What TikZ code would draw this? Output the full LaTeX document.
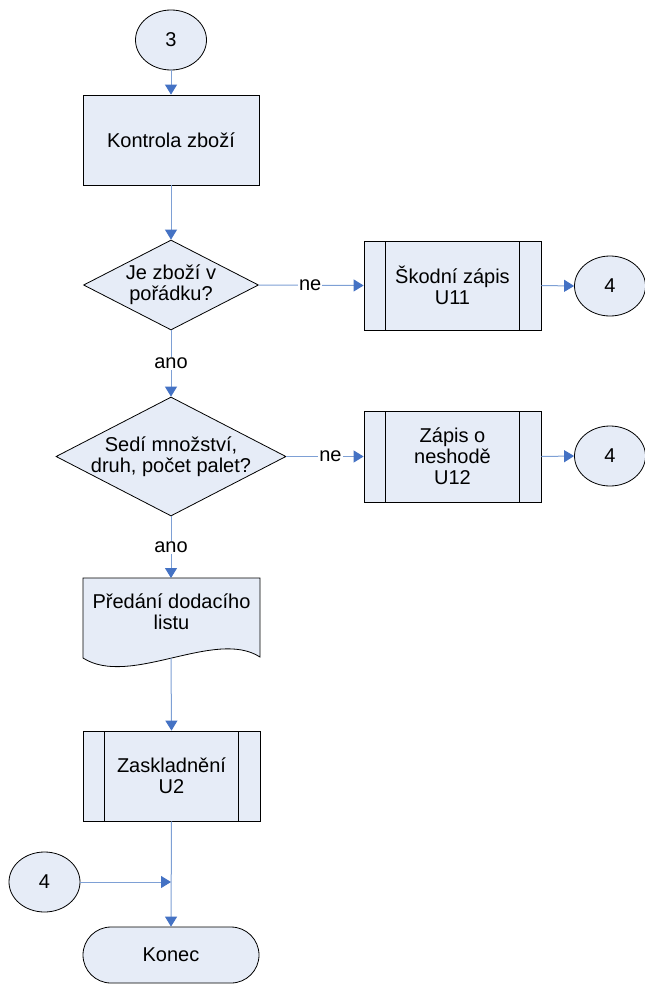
\documentclass[tikz,border=0pt]{standalone}
\usepackage{fontspec}
\setmainfont{Liberation Sans}
\usetikzlibrary{shapes.geometric,shapes.misc,arrows.meta}
\definecolor{boxfill}{RGB}{230,236,247}
\definecolor{lineblue}{RGB}{126,160,213}
\definecolor{tipblue}{RGB}{68,114,196}
\begin{document}
\begin{tikzpicture}[x=1pt,y=-1pt,
  every node/.style={font=\fontsize{20}{21}\selectfont, align=center, text=black},
  base/.style={draw=black, fill=boxfill, line width=0.8pt, inner sep=0pt},
  conn/.style={base, ellipse, minimum width=71pt, minimum height=60pt},
  procbox/.style={base, rectangle, minimum width=176pt, minimum height=90pt},
  subbox/.style={procbox, path picture={
      \draw[black, line width=0.8pt] ([xshift=21pt]path picture bounding box.north west) -- ([xshift=21pt]path picture bounding box.south west);
      \draw[black, line width=0.8pt] ([xshift=-22pt]path picture bounding box.north east) -- ([xshift=-22pt]path picture bounding box.south east);}},
  decbox/.style={base, diamond},
  termbox/.style={base, rounded rectangle, minimum width=176pt, minimum height=56pt},
  flow/.style={draw=lineblue, line width=1pt, -{Triangle[length=10pt,width=12pt,color=tipblue]}},
  lbl/.style={fill=white, inner sep=1pt}
]
\useasboundingbox (0,0) rectangle (645,985);
\fill[white] (0,0) rectangle (645,985);

% nodes
\node[conn] (c3) at (171,40) {3};
\node[procbox] (kon) at (171,140) {Kontrola zboží};
\node[decbox, minimum width=175pt, minimum height=90pt] (d1) at (171,285) {};
\node (d1t) at (171,285) {Je zboží v\\pořádku?};
\node[subbox, minimum width=177pt, minimum height=89pt] (sk) at (452.5,285.5) {Škodní zápis\\U11};
\node[conn] (c4a) at (610,286) {4};
\node[decbox, minimum width=230pt, minimum height=119pt] (d2) at (171,456.5) {};
\node (d2t) at (171,456.5) {Sedí množství,\\druh, počet palet?};
\node[subbox, minimum width=177pt, minimum height=91pt] (zap) at (452.5,456.5) {Zápis o\\neshodě\\U12};
\node[conn] (c4b) at (610,456) {4};

% document shape
\draw[base] (83,578) -- (260,578) -- (260,657) .. controls (215,628) and (130,688) .. (83,658) -- cycle;
\node (doc) at (171.5,612) {Předání dodacího\\listu};
\coordinate (docb) at (171,658);
\coordinate (doct) at (171,578);

\node[subbox, minimum width=177pt, minimum height=90pt] (zas) at (171.5,776) {Zaskladnění\\U2};
\node[conn] (c4c) at (44.5,882) {4};
\coordinate (join) at (171,882);
\node[termbox] (end) at (171,955) {Konec};

% connectors
\draw[flow] (c3) -- (kon);
\draw[flow] (kon) -- (d1);
\draw[flow] (d1.east) -- node[lbl, pos=0.49] (ne1) {ne} (sk.west);
\draw[flow] (sk.east) -- (c4a.west);
\draw[flow] (d1.south) -- node[lbl] (ano1) {ano} (d2.north);
\draw[flow] (d2.east) -- node[lbl, pos=0.57] (ne2) {ne} (zap.west);
\draw[flow] (zap.east) -- (c4b.west);
\draw[flow] (d2.south) -- node[lbl] (ano2) {ano} (doct);
\draw[flow] (docb) -- (zas.north);
\draw[flow] (zas.south) -- (end.north);
\draw[flow] (c4c.east) -- (join);
\end{tikzpicture}
\end{document}
